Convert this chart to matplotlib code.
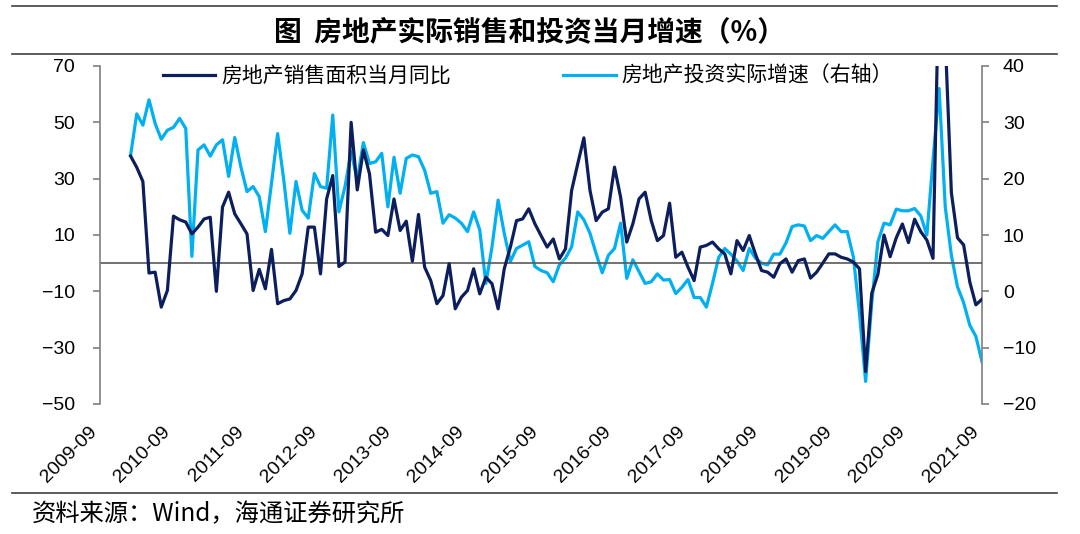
import numpy as np
import matplotlib
matplotlib.use("Agg")
import matplotlib.pyplot as plt
from matplotlib.lines import Line2D

plt.rcParams['font.family'] = ['Liberation Sans', 'Noto Sans CJK SC', 'DejaVu Sans']

# 房地产销售面积当月同比 (左轴), 2010-02 .. 2021-09
sales = [38, 34, 29, -3.5, -3.2, -15.6, -9.7, 16.7, 15.4, 14.6,
         10.4, 12.8, 15.7, 16.3, -10, 19.9, 25.2, 17.5, 14, 10.4,
         -9.7, -2.2, -9.1, 4.9, -14.4, -13.3, -12.7, -9.7, -3.8, 12.8,
         12.8, -3.8, 22.8, 31.1, -1.2, 0.4, 50, 26, 40.2, 31.7,
         11, 12, 9.8, 22.8, 11.6, 14.9, 0.7, 17.3, -1.4, -6.2,
         -14.4, -11.5, -0.2, -16.2, -12.1, -9.7, -2, -10.9, -5, -7.3,
         -16.2, -2, 5.7, 15.1, 15.7, 19.3, 14, 9.8, 5.7, 8.6,
         1.5, 5.1, 25.8, 35.3, 44.5, 25.8, 15.1, 18.1, 19.3, 34.1,
         23.4, 7.5, 14, 22.8, 25.2, 15.1, 8, 9.8, 21.3, 2.1,
         3.9, -1.4, -6.2, 5.7, 6.3, 7.5, 5.1, 3.3, -3.8, 8,
         4.5, 9.8, 3.3, -2.6, -3.2, -5, -0.2, 1.5, -3.2, 0.9,
         1.5, -5.3, -3.2, 0, 3.3, 3.3, 2.1, 1.5, 0.4, -2,
         -38.5, -10.7, -4, 10, 2.3, 9, 13.9, 7.3, 15.6, 11.2,
         8.2, 1.7, 105, 80, 25, 9, 6.5, -6.6, -14.8, -12.8]

# 房地产投资实际增速 (右轴)
invest = [24.2, 31.5, 29.5, 34, 29.8, 27, 28.6, 29.1, 30.7, 28.9,
          6.2, 25.1, 26, 24, 26, 26.9, 20.4, 27.3, 22.1, 17.7,
          18.6, 16.8, 10.6, 19.2, 28, 19.8, 10.3, 19.5, 14.4, 13,
          20.9, 18.6, 18.3, 31.3, 14.1, 18.6, 24.8, 19.8, 26.4, 22.7,
          23, 24.5, 15, 23.8, 17.4, 23.6, 24.2, 23.9, 21.5, 17.4,
          17.7, 12.1, 13.6, 13, 12.1, 10.6, 14.1, 10.9, 1.4, 7.9,
          16.2, 10.3, 5.3, 7.6, 8.2, 8.8, 4.4, 3.7, 3.3, 1.7,
          4.7, 5.9, 7.9, 14.1, 12.7, 10.3, 6.7, 3.3, 6.4, 7.6,
          12.1, 2.3, 5.6, 3.5, 1.4, 1.7, 3.1, 2, 2.1, -0.4,
          0.7, 2.1, -1.1, -1.1, -2.8, 1.4, 6, 7.6, 6.6, 5.4,
          3.7, 7.6, 5.9, 5, 4.7, 6.6, 6.6, 8.6, 11.5, 11.8,
          11.6, 9, 9.9, 9.4, 10.6, 11.8, 10.6, 10.6, 6.1, -3.9,
          -16, -2.1, 8.8, 12.1, 11.8, 14.6, 14.3, 14.3, 14.7, 13.4,
          10, 23.3, 36, 15, 6.4, 0.8, -2, -6, -8, -12.5]

tick_labels = ['%d-09' % y for y in range(2009, 2022)]

# 月份位置: 0 = 2009-09, 数据从 2010-02 开始
x = np.arange(len(sales)) + 5

dark = '#0c1f5c'
light = '#00b0f0'
gray = '#7f7f7f'

fig = plt.figure(figsize=(10.8, 5.34), dpi=100)
ax = fig.add_axes([100/1080, 1-404/534, 882/1080, 338/534])
ax2 = ax.twinx()

l1, = ax.plot(x, sales, color=dark, lw=2.3, solid_joinstyle='round')
l2, = ax2.plot(x, invest, color=light, lw=2.3, solid_joinstyle='round')
ax.axhline(0, color='#595959', lw=1.2, zorder=1)
ax.set_zorder(ax2.get_zorder() + 1)
ax.patch.set_visible(False)

ax.set_xlim(0, 144)
ax.set_ylim(-50, 70)
ax.set_yticks(range(-50, 71, 20))
ax2.set_ylim(-20, 40)
ax2.set_yticks(range(-20, 41, 10))

ax.set_xticks(range(0, 145, 12))
ax.set_xticklabels(tick_labels, rotation=45, ha='right', va='top', fontsize=14)
ax.tick_params(axis='x', length=0, pad=14)
ax.tick_params(axis='y', length=5, width=1.2, color=gray, labelsize=14, pad=13)
ax2.tick_params(axis='y', length=5, width=1.2, color=gray, labelsize=14, pad=10)

for a in (ax, ax2):
    for s in ('top', 'bottom'):
        a.spines[s].set_visible(False)
    for s in ('left', 'right'):
        a.spines[s].set_color(gray)
        a.spines[s].set_linewidth(1.2)
ax.spines['right'].set_visible(False)
ax2.spines['left'].set_visible(False)

fig.legend([l1, l2], ['房地产销售面积当月同比', '房地产投资实际增速（右轴）'],
           loc='center left', bbox_to_anchor=(163/1080, 1-76/534), ncol=2,
           frameon=False, borderpad=0, borderaxespad=0, handlelength=2.5,
           handletextpad=0.3, columnspacing=5.4,
           prop={'family': ['Noto Sans CJK SC', 'DejaVu Sans'], 'size': 15})

fig.text(530/1080, 1-32/534, '图  房地产实际销售和投资当月增速（%）',
         ha='center', va='center', fontsize=20, fontweight='bold',
         family=['Noto Sans CJK SC', 'DejaVu Sans'])
fig.text(32/1080, 1-514/534, '资料来源：Wind，海通证券研究所',
         ha='left', va='center', fontsize=17.5,
         family=['Noto Sans CJK SC', 'DejaVu Sans'])

for yy in (6, 54, 493):
    fig.add_artist(Line2D([12/1080, 1057/1080], [1-yy/534]*2,
                          transform=fig.transFigure, color='#404040', lw=1.2))

fig.savefig('out.png', dpi=100)
